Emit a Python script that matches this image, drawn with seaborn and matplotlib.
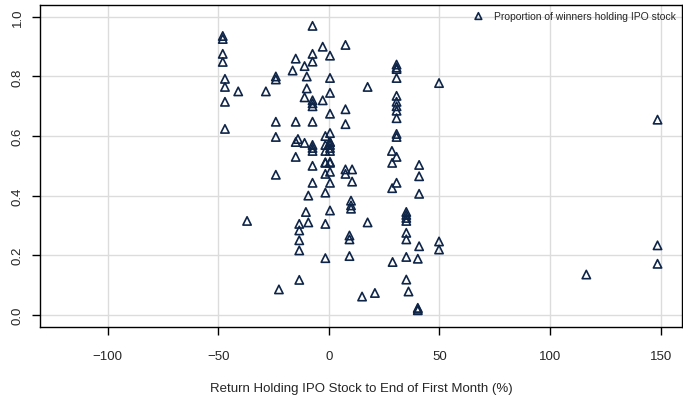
import matplotlib
matplotlib.use("Agg")
import matplotlib.pyplot as plt
import seaborn as sns
import pandas as pd

# Return to end of first month (%) and proportion of winners holding
first_month_return = [
    -48, -48, -48, -48, -47, -47, -47, -47,
    -41, -28.5,
    -24, -24, -24, -24, -24, -37, -22.6,
    -16.4, -15, -15, -15, -15, -14, -13.4, -13.4, -13.4, -13.4, -13.4,
    -11, -11, -11, -10, -10, -10.4, -9.3, -9.3,
    -7.4, -7.4, -7.4, -7.4, -7.4, -7.4, -7.4, -7.4, -7.4, -7.4, -7.4, -7.4,
    -2.8, -2.8,
    -1.6, -1.6, -1.6, -1.6, -1.6, -1.6, -1.6, -1.6, -1.6,
    0.5, 0.5, 0.5, 0.5, 0.5, 0.5, 0.5, 0.5, 0.5, 0.5, 0.5, 0.5, 0.5, 0.5, 0.5,
    7.5, 7.5, 7.5, 7.5, 7.5,
    10.5, 10.5, 10, 10, 10, 9.3, 9.3, 9.3,
    15, 17.5, 17.5, 20.8,
    28.5, 28.6, 28.6, 28.8,
    30.6, 30.6, 30.6, 30.6, 30.6, 30.6, 30.6, 30.6, 30.6, 30.6, 30.6, 30.6, 30.6,
    35, 35, 35, 35, 35, 35, 35, 35, 36,
    40.8, 40.8, 40.8, 40.8, 40.2, 40.2, 40.2, 40.2,
    49.8, 49.8, 49.8,
    116.4, 148.6, 148.6, 148.6,
]
prop_winners_holding = [
    0.936, 0.926, 0.876, 0.849, 0.792, 0.765, 0.715, 0.624,
    0.75, 0.75,
    0.80, 0.79, 0.648, 0.597, 0.47, 0.315, 0.085,
    0.82, 0.86, 0.648, 0.58, 0.53, 0.59, 0.305, 0.283, 0.25, 0.216, 0.117,
    0.835, 0.73, 0.577, 0.80, 0.76, 0.345, 0.40, 0.31,
    0.97, 0.876, 0.85, 0.72, 0.70, 0.71, 0.648, 0.57, 0.55, 0.50, 0.443, 0.56,
    0.90, 0.72,
    0.60, 0.57, 0.55, 0.51, 0.512, 0.473, 0.41, 0.305, 0.19,
    0.87, 0.795, 0.745, 0.675, 0.61, 0.58, 0.56, 0.55, 0.57, 0.51, 0.513, 0.48, 0.443, 0.35, 0.58,
    0.906, 0.69, 0.64, 0.488, 0.473,
    0.488, 0.447, 0.383, 0.367, 0.356, 0.266, 0.253, 0.197,
    0.061, 0.765, 0.31, 0.073,
    0.55, 0.51, 0.425, 0.177,
    0.84, 0.83, 0.825, 0.795, 0.735, 0.715, 0.70, 0.685, 0.66, 0.607, 0.597, 0.53, 0.443,
    0.345, 0.335, 0.325, 0.315, 0.275, 0.253, 0.194, 0.118, 0.078,
    0.503, 0.465, 0.406, 0.23, 0.188, 0.023, 0.015, 0.02,
    0.778, 0.246, 0.219,
    0.135, 0.655, 0.233, 0.171,
]

df = pd.DataFrame({"ret": first_month_return, "prop": prop_winners_holding})

sns.set_style("white")
plt.rcParams["font.family"] = ["Liberation Sans", "DejaVu Sans"]

fig, ax = plt.subplots(figsize=(6.83, 4.02), dpi=100)
fig.subplots_adjust(left=0.059, right=0.998, top=0.985, bottom=0.185)

navy = "#0f2548"
sns.scatterplot(data=df, x="ret", y="prop", ax=ax, marker="^", s=36,
                facecolors="none", edgecolor=navy, linewidth=1.2,
                label="Proportion of winners holding IPO stock")

ax.set_xlim(-130.5, 159.5)
ax.set_ylim(-0.04, 1.04)
ax.set_xticks([-100, -50, 0, 50, 100, 150])
ax.set_xticklabels(["\u2212100", "\u221250", "0", "50", "100", "150"])
ax.set_yticks([0.0, 0.2, 0.4, 0.6, 0.8, 1.0])
ax.set_yticklabels(["0.0", "0.2", "0.4", "0.6", "0.8", "1.0"], rotation=90, va="center")
ax.grid(True, color="#dcdcdc", linewidth=1)
ax.set_axisbelow(True)
for sp in ax.spines.values():
    sp.set_visible(True)
    sp.set_color("black")
    sp.set_linewidth(1.0)
ax.tick_params(axis="both", direction="out", length=6, width=1, color="black",
               labelsize=9.5, bottom=True, left=True)
ax.tick_params(axis="x", pad=11)
ax.tick_params(axis="y", pad=6)
ax.set_xlabel("Return Holding IPO Stock to End of First Month (%)", fontsize=9.5, labelpad=14)
ax.set_ylabel("")

leg = ax.legend(loc="upper right", frameon=False, fontsize=7.5, handletextpad=0.5,
                borderaxespad=0.15, markerscale=0.8)

plt.savefig("out.png", dpi=100)
